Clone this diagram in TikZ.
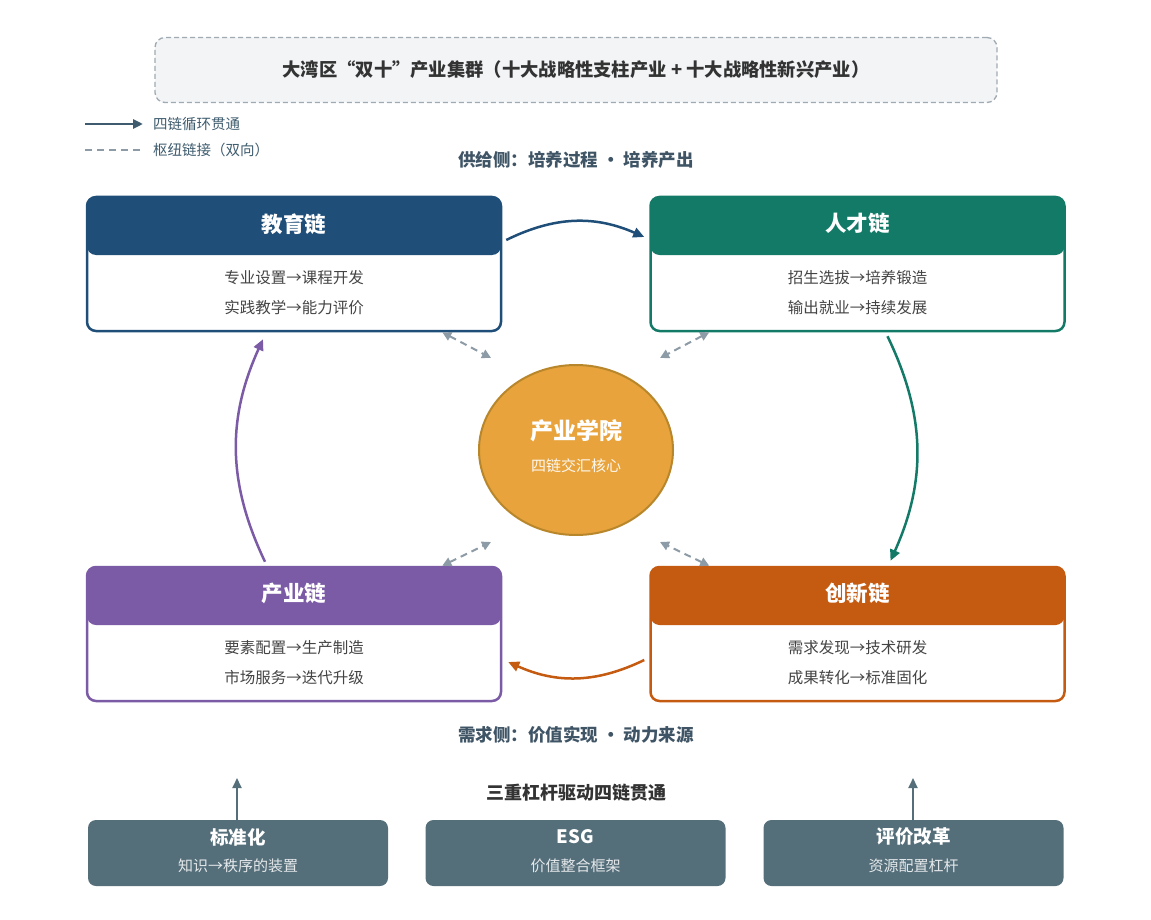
\documentclass[tikz,border=0pt]{standalone}
\usepackage{fontspec}
\setmainfont{Noto Sans CJK SC}
\usetikzlibrary{arrows.meta,shapes.geometric}
\definecolor{edublue}{HTML}{1F4E79}
\definecolor{talentc}{HTML}{137A68}
\definecolor{indc}{HTML}{7B5AA6}
\definecolor{innc}{HTML}{C55A11}
\definecolor{hubfill}{HTML}{E8A33D}
\definecolor{hubline}{HTML}{B8862B}
\definecolor{levc}{HTML}{546E7A}
\definecolor{dashc}{HTML}{8C9BA5}
\definecolor{banfill}{HTML}{F2F4F6}
\definecolor{banline}{HTML}{A0AAB2}
\definecolor{legc}{HTML}{3E5C6E}
\definecolor{sidec}{HTML}{3F5566}
\definecolor{bodyc}{HTML}{444444}
\tikzset{
  chainbox/.style={draw=#1, line width=2.5pt, rounded corners=9pt, fill=white,
    minimum width=414pt, minimum height=134pt, inner sep=0pt,
    path picture={\fill[#1] ([yshift=2pt]path picture bounding box.north west) rectangle ([yshift=-58pt]path picture bounding box.north east);}},
  chaintitle/.style={text=white, font=\fontsize{21.5}{25}\selectfont\bfseries, inner sep=0pt},
  chainline/.style={text=bodyc, font=\fontsize{15.5}{18}\selectfont, inner sep=0pt},
  cyc/.style={line width=2.5pt, -{Triangle[length=11pt,width=10pt]}, bend left=25},
  hublink/.style={draw=dashc, line width=2pt, dash pattern=on 7pt off 5pt, {Triangle[length=9pt,width=9pt]}-{Triangle[length=9pt,width=9pt]}},
  lever/.style={fill=levc, rounded corners=8pt, minimum width=300pt, minimum height=66pt, inner sep=0pt},
  levtitle/.style={text=white, font=\fontsize{18.5}{22}\selectfont\bfseries, inner sep=0pt},
  levsub/.style={text=white!85!levc, font=\fontsize{15}{18}\selectfont, inner sep=0pt},
  sidelabel/.style={text=sidec, font=\fontsize{17.5}{21}\selectfont\bfseries, inner sep=0pt},
  legtext/.style={text=legc, font=\fontsize{14.5}{17}\selectfont, inner sep=0pt, anchor=west}
}
\begin{document}
\begin{tikzpicture}[x=1pt,y=-1pt]
\useasboundingbox (0,0) rectangle (1151,920);
% banner
\node[draw=banline, fill=banfill, line width=1.3pt, dash pattern=on 5pt off 3pt, rounded corners=10pt,
  minimum width=842pt, minimum height=65pt, inner sep=0pt] (banner) at (576,70) {};
\node[text=black!80, font=\fontsize{18.3}{22}\selectfont\bfseries, inner sep=0pt] (bannert) at (banner.center) {大湾区“双十”产业集群（十大战略性支柱产业 + 十大战略性新兴产业）};
% legend
\coordinate (la1) at (85,124);
\coordinate (la2) at (143,124);
\draw[legc, line width=2.5pt, -{Triangle[length=10pt,width=9pt]}] (la1) -- (la2);
\node[legtext] (lat) at (153,124) {四链循环贯通};
\coordinate (lb1) at (85,150);
\coordinate (lb2) at (143,150);
\draw[dashc, line width=1.8pt, dash pattern=on 7pt off 5pt] (lb1) -- (lb2);
\node[legtext] (lbt) at (153,150) {枢纽链接（双向）};
% side labels
\node[sidelabel] (supply) at (576,160) {供给侧：培养过程 · 培养产出};
\node[sidelabel] (demand) at (576,735) {需求侧：价值实现 · 动力来源};
% chain boxes
\node[chainbox=edublue] (edu) at (294,264) {};
\node[chaintitle] (edut) at ([yshift=-28pt]edu.north) {教育链};
\node[chainline] (edu1) at (294,278) {专业设置→课程开发};
\node[chainline] (edu2) at (294,308) {实践教学→能力评价};
\node[chainbox=talentc] (tal) at (857.5,264) {};
\node[chaintitle] (talt) at ([yshift=-28pt]tal.north) {人才链};
\node[chainline] (tal1) at (857.5,278) {招生选拔→培养锻造};
\node[chainline] (tal2) at (857.5,308) {输出就业→持续发展};
\node[chainbox=indc] (ind) at (294,634) {};
\node[chaintitle] (indt) at ([yshift=-28pt]ind.north) {产业链};
\node[chainline] (ind1) at (294,648) {要素配置→生产制造};
\node[chainline] (ind2) at (294,678) {市场服务→迭代升级};
\node[chainbox=innc] (inn) at (857.5,634) {};
\node[chaintitle] (innt) at ([yshift=-28pt]inn.north) {创新链};
\node[chainline] (inn1) at (857.5,648) {需求发现→技术研发};
\node[chainline] (inn2) at (857.5,678) {成果转化→标准固化};
% hub
\node[ellipse, fill=hubfill, draw=hubline, line width=2pt, minimum width=194pt, minimum height=170pt, inner sep=0pt] (hub) at (576,450) {};
\node[text=white, font=\fontsize{23}{27}\selectfont\bfseries, inner sep=0pt] (hubt) at (576,431) {产业学院};
\node[text=white!92!hubfill, font=\fontsize{15}{18}\selectfont, inner sep=0pt] (hubs) at (576,466) {四链交汇核心};
% cycle arrows
\draw[cyc, edublue] ([yshift=24pt]edu.east) ++(4,0) coordinate (e1) (e1) to ([xshift=-5pt,yshift=27pt]tal.west);
\draw[cyc, talentc] ([xshift=30pt,yshift=-4pt]tal.south) to ([xshift=33pt,yshift=5pt]inn.north);
\draw[cyc, innc] ([xshift=-5pt,yshift=-26pt]inn.west) to ([xshift=6pt,yshift=-28pt]ind.east);
\draw[cyc, indc] ([xshift=-29pt,yshift=4pt]ind.north) to ([xshift=-31pt,yshift=-7pt]edu.south);
% hub links
\coordinate (h1) at (491,358);
\coordinate (h2) at (660,358);
\coordinate (h3) at (491,542);
\coordinate (h4) at (660,542);
\draw[hublink] ([xshift=-60pt]edu.south east) -- (h1);
\draw[hublink] ([xshift=60pt]tal.south west) -- (h2);
\draw[hublink] ([xshift=-60pt]ind.north east) -- (h3);
\draw[hublink] ([xshift=60pt]inn.north west) -- (h4);
% levers
\node[text=black!80, font=\fontsize{18}{21}\selectfont\bfseries, inner sep=0pt] (levtitle) at (576,793) {三重杠杆驱动四链贯通};
\node[lever] (lev1) at (238,853) {};
\node[levtitle] (lev1t) at (238,837) {标准化};
\node[levsub] (lev1s) at (238,866) {知识→秩序的装置};
\node[lever] (lev2) at (575.5,853) {};
\node[levtitle] (lev2t) at (575.5,837) {ESG};
\node[levsub] (lev2s) at (575.5,866) {价值整合框架};
\node[lever] (lev3) at (913.5,853) {};
\node[levtitle] (lev3t) at (913.5,837) {评价改革};
\node[levsub] (lev3s) at (913.5,866) {资源配置杠杆};
\coordinate (u1) at (237,778);
\coordinate (u3) at (913,778);
\draw[levc, line width=2pt, -{Triangle[length=10pt,width=9pt]}] ([xshift=-1pt]lev1.north) -- (u1);
\draw[levc, line width=2pt, -{Triangle[length=10pt,width=9pt]}] ([xshift=-0.5pt]lev3.north) -- (u3);
\end{tikzpicture}
\end{document}
